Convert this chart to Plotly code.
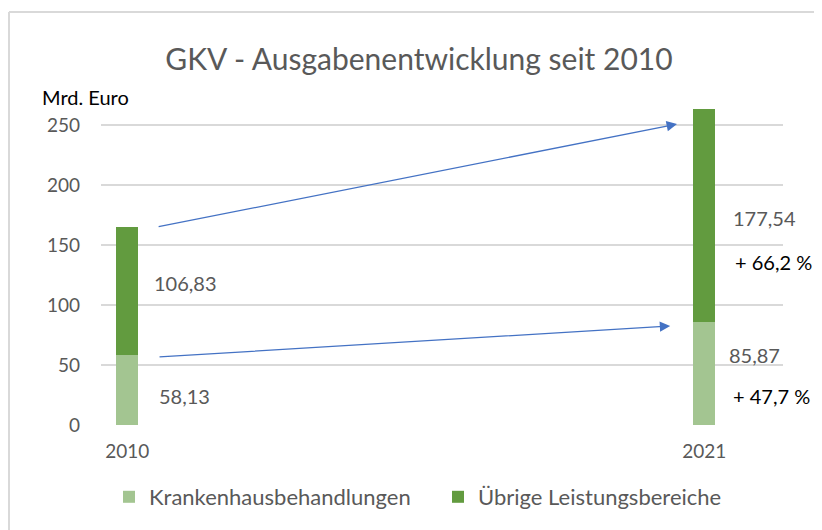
import plotly.graph_objects as go

years = [2010, 2021]
krankenhaus = [58.13, 85.87]
uebrige = [106.83, 177.54]
series_names = ["Krankenhausbehandlungen", "Übrige Leistungsbereiche"]
y_ticks = [0, 50, 100, 150, 200, 250]

LIGHT = "#a3c591"
DARK = "#629b3f"
GRAY = "#595959"
FONT = "Lato"

fig = go.Figure()
fig.add_trace(go.Bar(x=years, y=krankenhaus, name=series_names[0], marker_color=LIGHT,
                     width=0.42, marker_line_width=0, legend="legend"))
fig.add_trace(go.Bar(x=years, y=uebrige, name=series_names[1], marker_color=DARK,
                     width=0.42, marker_line_width=0, legend="legend2"))

def de(v, d=2):
    return f"{v:.{d}f}".replace(".", ",")

pct_k = (krankenhaus[1] / krankenhaus[0] - 1) * 100
pct_u = (uebrige[1] / uebrige[0] - 1) * 100

ann = []
def label(x, y, text, color=GRAY):
    ann.append(dict(x=x, y=y, xref="x", yref="y", text=text, showarrow=False,
                    xanchor="left", yanchor="middle",
                    font=dict(family=FONT, size=20, color=color)))

label(2010.47, 118, de(uebrige[0]))
label(2010.57, 24, de(krankenhaus[0]))
label(2021.51, 172.5, de(uebrige[1]))
label(2021.55, 136, "+ " + de(pct_u, 1) + " %", "#000000")
label(2021.44, 58, de(krankenhaus[1]))
label(2021.51, 24, "+ " + de(pct_k, 1) + " %", "#000000")

# arrows
for (x0, y0, x1, y1) in [(2010.587, 56.7, 2020.35, 82.5), (2010.57, 165.0, 2020.48, 250.8)]:
    ann.append(dict(x=x1, y=y1, ax=x0, ay=y0, xref="x", yref="y", axref="x", ayref="y",
                    text="", showarrow=True, arrowhead=2, arrowsize=1.6, arrowwidth=1.3,
                    arrowcolor="#4472c4", standoff=0, startstandoff=0))

ann.append(dict(x=-0.022, y=1.031, xref="paper", yref="paper", text="Mrd. Euro",
                showarrow=False, xanchor="center", yanchor="middle",
                font=dict(family=FONT, size=20, color="#000000")))

legend_common = dict(orientation="h", xanchor="left", y=-0.2264, yanchor="middle",
                     font=dict(family=FONT, size=22, color=GRAY), bgcolor="rgba(0,0,0,0)")

fig.update_layout(
    width=822, height=530,
    margin=dict(l=93, r=47, t=99, b=113, autoexpand=False),
    paper_bgcolor="white", plot_bgcolor="white",
    barmode="stack",
    title=dict(text="GKV - Ausgabenentwicklung seit 2010", x=0.5, xanchor="center",
               y=0.902, yanchor="middle",
               font=dict(family=FONT, size=30, color=GRAY)),
    xaxis=dict(range=[2009.5, 2022.5], tickvals=years, ticktext=[str(y) for y in years],
               showgrid=False, zeroline=False, showline=False, ticks="", ticklabelstandoff=13,
               tickfont=dict(family=FONT, size=19, color=GRAY)),
    yaxis=dict(range=[0, 265], tickvals=y_ticks, showgrid=True, gridcolor="#d9d9d9",
               gridwidth=1.5, zeroline=False, showline=False, ticks="", ticklabelstandoff=20,
               tickfont=dict(family=FONT, size=19, color=GRAY)),
    legend=dict(x=(109 - 8 - 93) / 682, **legend_common),
    legend2=dict(x=(438 - 8 - 93) / 682, **legend_common),
    annotations=ann,
    shapes=[
        dict(type="line", xref="paper", yref="paper", x0=-0.1349, x1=-0.1349, y0=-0.4, y1=1.2987,
             line=dict(color="#d9d9d9", width=2)),
        dict(type="line", xref="paper", yref="paper", x0=-0.1349, x1=1.1, y0=1.2987, y1=1.2987,
             line=dict(color="#d9d9d9", width=2)),
    ],
    showlegend=True,
)

fig.write_html("out.html")
